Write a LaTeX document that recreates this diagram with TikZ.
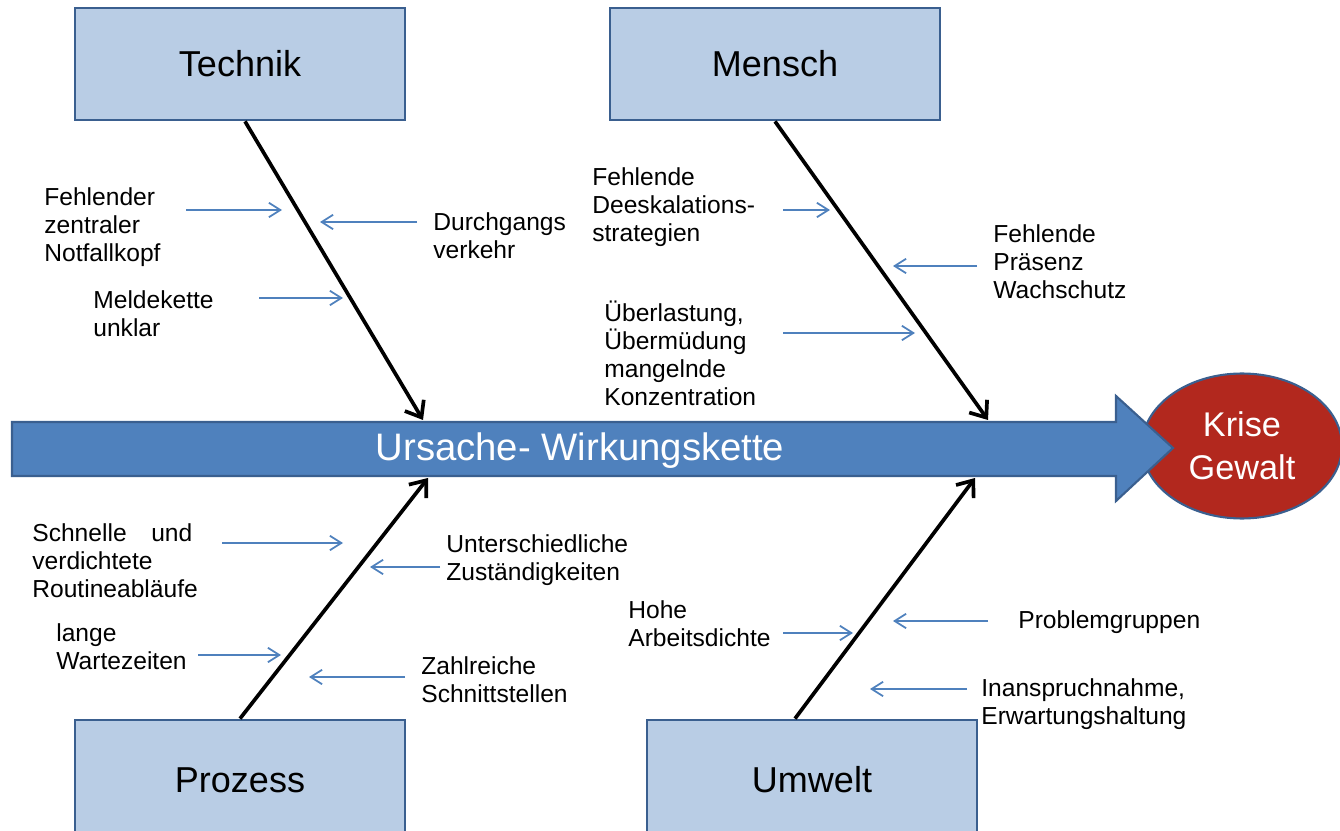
\documentclass[tikz,border=0pt]{standalone}
\usepackage{fontspec}
\setmainfont{Liberation Sans}
\usepackage{tikz}
\usetikzlibrary{arrows.meta,shapes.geometric}
\definecolor{rand}{HTML}{3A5F8F}
\definecolor{hellblau}{HTML}{B9CDE5}
\definecolor{mittelblau}{HTML}{4F81BD}
\definecolor{krisenrot}{HTML}{B2281E}
\tikzset{
  kasten/.style={rectangle,fill=hellblau,draw=rand,line width=1.6pt,minimum width=6.6cm,minimum height=2.24cm,font=\fontsize{20.5}{24}\selectfont},
  knochen/.style={-{Straight Barb[length=2.8mm,width=4.4mm]},line width=2.1pt},
  pfeil/.style={-{Straight Barb[length=2.3mm,width=2.9mm]},draw=mittelblau,line width=1pt},
  txt/.style={anchor=west,align=left,inner sep=0pt,font=\fontsize{14}{15.9}\selectfont}
}

\begin{document}
\begin{tikzpicture}[x=0.02cm,y=-0.02cm]
\useasboundingbox (0,0) rectangle (1340,831);
\node[kasten] (technik) at (240,64) {\raisebox{-2pt}{Technik}};
\node[kasten] (mensch) at (775,64) {\raisebox{-2pt}{Mensch}};
\node[kasten,minimum height=2.4cm] (prozess) at (240,780) {Prozess};
\node[kasten,minimum height=2.4cm] (umwelt) at (812,780) {Umwelt};
\node[ellipse,fill=krisenrot,draw=rand,line width=1.2pt,minimum width=4cm,minimum height=2.9cm,text=white,align=center,font=\fontsize{19.5}{24.4}\selectfont] (krise) at (1242,446) {Krise\\Gewalt};
\draw[fill=mittelblau,draw=rand,line width=1.2pt] (12,422) -- (1116,422) -- (1116,396) -- (1173,448) -- (1116,501) -- (1116,476) -- (12,476) -- cycle;
\node[text=white,font=\fontsize{21.8}{26}\selectfont] (kette) at (580,451) {Ursache- Wirkungskette};
\coordinate (k1) at (423,420); \coordinate (k2) at (988,420);
\coordinate (k3) at (428,478); \coordinate (k4) at (975,478);
\draw[knochen] ([xshift=0.1cm]technik.south) -- (k1);
\draw[knochen] (mensch.south) -- (k2);
\draw[knochen] (prozess.north) -- (k3);
\draw[knochen] ([xshift=-0.34cm]umwelt.north) -- (k4);
\node[txt] (notfall) at (44,227) {Fehlender\\zentraler\\Notfallkopf};
\node[txt] (durchgang) at (433,236) {Durchgangs\\verkehr};
\node[txt] (melde) at (93,314) {Meldekette\\unklar};
\node[txt] (deeskal) at (592,207) {Fehlende\\Deeskalations-\\strategien};
\node[txt] (praesenz) at (993,262) {Fehlende\\Präsenz\\Wachschutz};
\node[txt] (ueberlast) at (604,353) {Überlastung,\\Übermüdung\\mangelnde\\Konzentration};
\node[txt] (routine) at (32,561) {Schnelle\quad und\\verdichtete\\Routineabläufe};
\node[txt] (zustaendig) at (446,560) {Unterschiedliche\\Zuständigkeiten};
\node[txt] (warte) at (56,647) {lange\\Wartezeiten};
\node[txt] (schnitt) at (421,680) {Zahlreiche\\Schnittstellen};
\node[txt] (arbeit) at (628,624) {Hohe\\Arbeitsdichte};
\node[txt] (problem) at (1018,622) {Problemgruppen};
\node[txt] (erwartung) at (981,704) {Inanspruchnahme,\\Erwartungshaltung};
\coordinate (a1) at (186,210); \coordinate (b1) at (282,210); \draw[pfeil] (a1) -- (b1);
\coordinate (a2) at (417,222); \coordinate (b2) at (320,222); \draw[pfeil] (a2) -- (b2);
\coordinate (a3) at (259,298); \coordinate (b3) at (343,298); \draw[pfeil] (a3) -- (b3);
\coordinate (a4) at (783,210); \coordinate (b4) at (830,210); \draw[pfeil] (a4) -- (b4);
\coordinate (a5) at (977,266); \coordinate (b5) at (893,266); \draw[pfeil] (a5) -- (b5);
\coordinate (a6) at (783,333); \coordinate (b6) at (915,333); \draw[pfeil] (a6) -- (b6);
\coordinate (a7) at (222,543); \coordinate (b7) at (343,543); \draw[pfeil] (a7) -- (b7);
\coordinate (a8) at (440,567); \coordinate (b8) at (370,567); \draw[pfeil] (a8) -- (b8);
\coordinate (a9) at (198,655); \coordinate (b9) at (281,655); \draw[pfeil] (a9) -- (b9);
\coordinate (a10) at (405,677); \coordinate (b10) at (309,677); \draw[pfeil] (a10) -- (b10);
\coordinate (a11) at (783,633); \coordinate (b11) at (853,633); \draw[pfeil] (a11) -- (b11);
\coordinate (a12) at (988,621); \coordinate (b12) at (893,621); \draw[pfeil] (a12) -- (b12);
\coordinate (a13) at (967,689); \coordinate (b13) at (870,689); \draw[pfeil] (a13) -- (b13);
\end{tikzpicture}
\end{document}
